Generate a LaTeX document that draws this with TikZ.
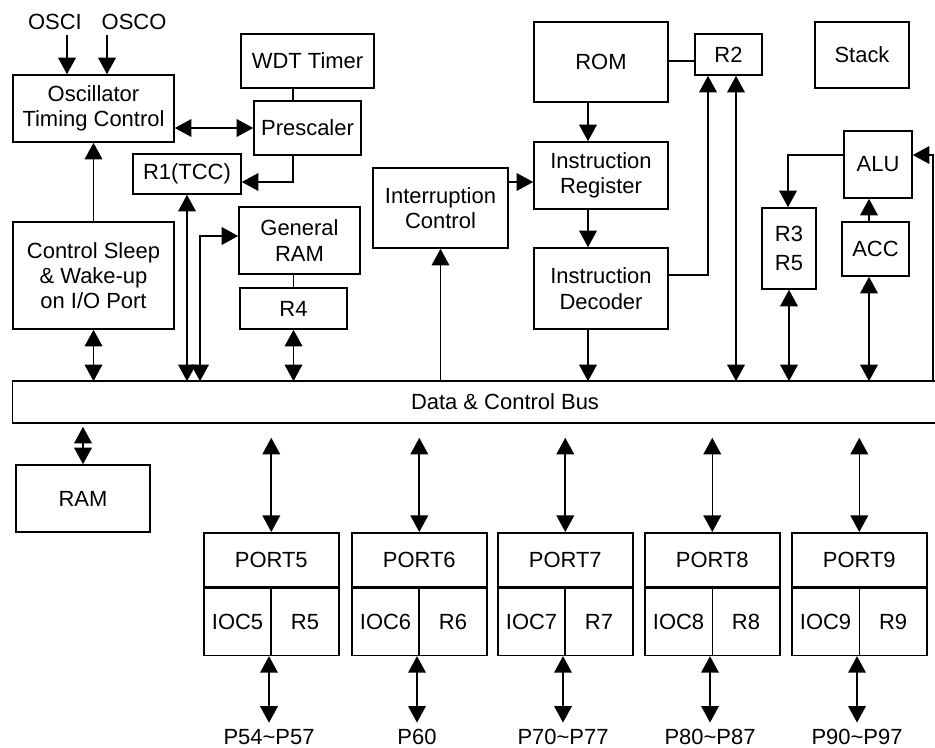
\documentclass[tikz,border=0pt]{standalone}
\usepackage{fontspec}
\setmainfont{Liberation Sans}
\usetikzlibrary{arrows.meta,positioning}
\tikzstyle{blk} = [rectangle, draw, align=center, inner sep=0pt]
\tikzstyle{cell} = [rectangle, draw, minimum width=1.35cm, minimum height=1.34cm, inner sep=0pt]

\begin{document}
\begin{tikzpicture}[x=0.02cm,y=-0.02cm,line width=0.9pt,
                    >={Triangle[length=9.4pt,width=10pt]},
                    font=\fontsize{12.5}{14.4}\selectfont]
  \useasboundingbox (0,0) rectangle (935,747);
  % clock, timer and memory side
  \node (osci) at (55,22) {OSCI};
  \node (osco) at (134,22) {OSCO};
  \coordinate (osciin) at (67,35);
  \coordinate (oscoin) at (107,35);
  \node[blk, minimum width=3.22cm, minimum height=1.34cm] (osc) at (93.5,108.5) {Oscillator\\Timing Control};
  \node[blk, minimum width=2.66cm, minimum height=1.08cm] (wdt) at (307.5,61) {WDT Timer};
  \node[blk, minimum width=2.14cm, minimum height=1.08cm] (pre) at (307.5,128) {Prescaler};
  \node[blk, minimum width=2.16cm, minimum height=0.8cm] (r1) at (187,174) {R1(TCC)};
  \node[blk, minimum width=3.22cm, minimum height=2.14cm] (sleep) at (93.5,275.5) {Control Sleep\\\& Wake-up\\on I/O Port};
  \node[blk, minimum width=2.42cm, minimum height=1.34cm] (gram) at (299.5,240.5) {General\\RAM};
  \node[blk, minimum width=2.14cm, minimum height=0.82cm] (r4) at (293.5,308.5) {R4};
  % core
  \node[blk, minimum width=2.7cm, minimum height=1.6cm] (ic) at (440.5,208) {Interruption\\Control};
  \node[blk, minimum width=2.68cm, minimum height=1.6cm] (rom) at (601,62) {ROM};
  \node[blk, minimum width=2.68cm, minimum height=1.34cm] (ir) at (601,175.5) {Instruction\\Register};
  \node[blk, minimum width=2.68cm, minimum height=1.62cm] (id) at (601,288.5) {Instruction\\Decoder};
  \node[blk, minimum width=1.34cm, minimum height=0.82cm] (r2) at (728.5,54.5) {R2};
  \node[blk, minimum width=1.88cm, minimum height=1.32cm] (stack) at (862,55) {Stack};
  \node[blk, minimum width=1.36cm, minimum height=1.34cm] (alu) at (878,164.5) {ALU};
  \node[blk, minimum width=1.08cm, minimum height=1.62cm] (r35) at (789,248.5) {R3\\[2.6pt]R5};
  \node[blk, minimum width=1.34cm, minimum height=1.08cm] (acc) at (875.5,249) {ACC};
  % bus
  \node[minimum width=18.44cm, minimum height=0.8cm, inner sep=0pt] (bus) at (474,402) {};
  \node (bustext) at (505,402) {Data \& Control Bus};
  \draw (bus.north east) -- (bus.north west) -- (bus.south west) -- (bus.south east);
  \node[blk, minimum width=2.68cm, minimum height=1.34cm] (ram) at (83,498.5) {RAM};
  % ports
  \foreach \n/\x/\pins in {5/203/P54\textasciitilde P57, 6/351/P60, 7/497/P70\textasciitilde P77,
                           8/644/P80\textasciitilde P87, 9/791/P90\textasciitilde P97} {
    \node[blk, minimum width=2.7cm, minimum height=1.08cm, anchor=north west] (p\n-h) at (\x,532) {PORT\n};
    \node[cell, below right=0pt of p\n-h.south west] (p\n-i) {IOC\n};
    \node[cell, below left=0pt of p\n-h.south east] (p\n-r) {R\n};
    \node (p\n-pin) at (\x+66,737) {\pins};
    \draw[<->, shorten <=0.3cm] (p\n-h.north |- bus.south) -- (p\n-h.north);
    \draw[<->] (p\n-pin.north |- p\n-i.south) -- (p\n-pin.north);
  }

  % left connectors
  \draw[->] (osciin) -- (osciin |- osc.north);
  \draw[->] (oscoin) -- (oscoin |- osc.north);
  \draw[<->] (osc.east |- pre) -- (pre.west);
  \coordinate (prebend) at (293,182);
  \draw (wdt.south -| prebend) -- (pre.north -| prebend);
  \draw[->] (pre.south -| prebend) -- (prebend) -- (prebend -| r1.east);
  \draw[->] (sleep) -- (osc);
  \draw[<->] (sleep) -- (sleep |- bus.north);
  \draw[<->] (r1) -- (r1 |- bus.north);
  \coordinate (grambend) at (200,236);
  \draw[<->] (grambend |- bus.north) -- (grambend) -- (grambend -| gram.west);
  \draw (gram.south -| r4) -- (r4);
  \draw[<->] (r4) -- (r4 |- bus.north);
  \draw[<->, shorten <=0.08cm] (ram.north |- bus.south) -- (ram.north);

  % core connectors
  \coordinate (insline) at (588,0);
  \draw[->] (rom.south -| insline) -- (ir.north -| insline);
  \draw[->] (ir.south -| insline) -- (id.north -| insline);
  \draw[->] (id.south -| insline) -- (bus.north -| insline);
  \coordinate (icline) at (0,182);
  \draw[->] (ic.east |- icline) -- (ir.west |- icline);
  \draw[->] (ic |- bus.north) -- (ic);
  \coordinate (romline) at (0,61);
  \draw (rom.east |- romline) -- (r2.west |- romline);
  \coordinate (idbend) at (708,275);
  \draw[->] (id.east |- idbend) -- (idbend) -- (idbend |- r2.south);
  \coordinate (r2line) at (736,0);
  \draw[<->] (r2.south -| r2line) -- (bus.north -| r2line);

  % alu connectors
  \coordinate (alubend) at (788,155);
  \draw[->] (alu.west |- alubend) -- (alubend) -- (alubend |- r35.north);
  \draw[<->] (r35) -- (r35 |- bus.north);
  \coordinate (accline) at (869,0);
  \draw[->] (acc.north -| accline) -- (alu.south -| accline);
  \draw[<->] (acc.south -| accline) -- (bus.north -| accline);
  \coordinate (alubus) at (933,155);
  \draw[->] (bus.north -| alubus) -- (alubus) -- (alubus -| alu.east);
\end{tikzpicture}
\end{document}
